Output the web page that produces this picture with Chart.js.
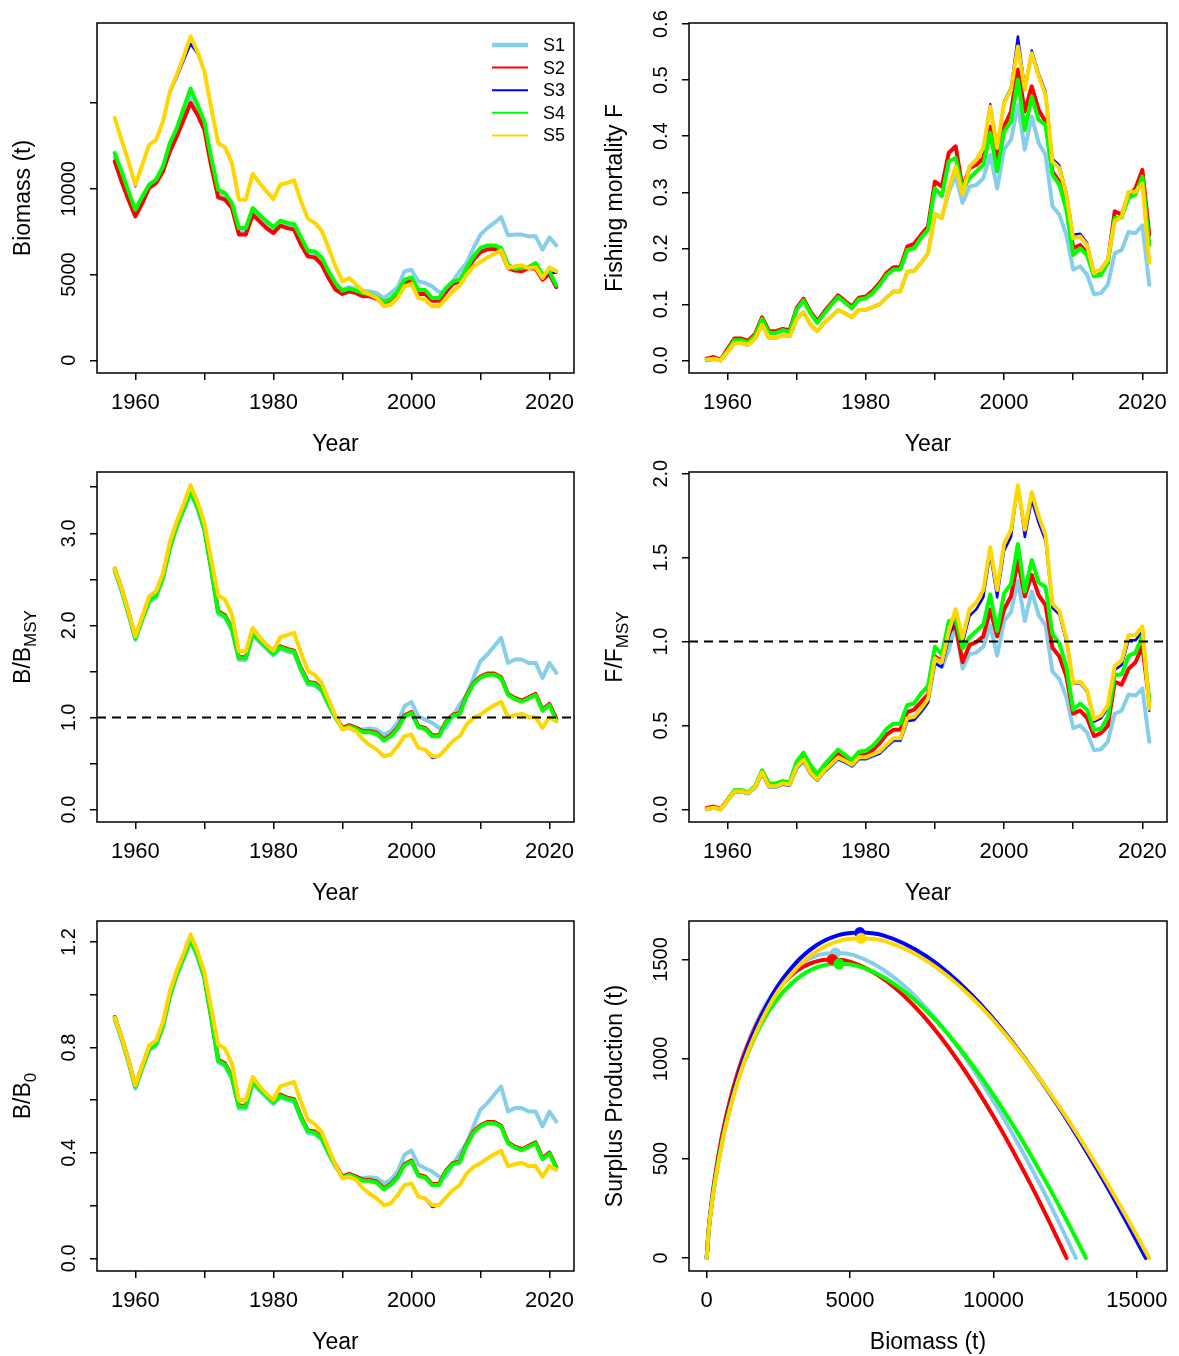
<!DOCTYPE html>
<html><head><meta charset="utf-8">
<script src="https://cdn.jsdelivr.net/npm/chart.js@4.4.1/dist/chart.umd.min.js"></script>
<style>
html,body{margin:0;padding:0;background:#fff;}
#wrap{position:relative;width:1179px;height:1356px;overflow:hidden;background:#fff;}
canvas{position:absolute;}
</style></head><body>
<div id="wrap">
<canvas id="c1" width="590" height="470" style="left:0;top:0"></canvas>
<canvas id="c2" width="589" height="470" style="left:590px;top:0"></canvas>
<canvas id="c3" width="590" height="470" style="left:0;top:449px"></canvas>
<canvas id="c4" width="589" height="470" style="left:590px;top:449px"></canvas>
<canvas id="c5" width="590" height="458" style="left:0;top:898px"></canvas>
<canvas id="c6" width="589" height="458" style="left:590px;top:898px"></canvas>
</div>
<script>
// ---------------- DATA ----------------
const years = [1957,1958,1959,1960,1961,1962,1963,1964,1965,1966,1967,1968,1969,1970,1971,1972,1973,1974,1975,1976,
1977,1978,1979,1980,1981,1982,1983,1984,1985,1986,1987,1988,1989,1990,1991,1992,1993,1994,1995,1996,
1997,1998,1999,2000,2001,2002,2003,2004,2005,2006,2007,2008,2009,2010,2011,2012,2013,2014,2015,2016,
2017,2018,2019,2020,2021];
const seriesNames = ['S1','S2','S3','S4','S5'];

// Biomass (t)
const bioS1 = [11850,10730,9610,8590,9370,10150,10440,11170,12430,13300,14370,15400,14610,13690,11550,9730,9560,9030,7520,7520,
8690,8300,7910,7600,8000,7860,7790,6960,6230,6180,5790,5000,4320,4120,4260,4180,4060,4020,3920,3630,
3920,4260,5190,5280,4600,4510,4310,3980,3980,4600,5190,5670,6550,7330,7710,8010,8350,7290,7330,7330,
7230,7230,6450,7170,6700];
const bioS2 = [11600,10430,9370,8390,9170,10050,10340,11020,12180,13060,14030,15000,14320,13450,11310,9500,9370,8880,7330,7330,
8490,8100,7710,7420,7850,7710,7620,6740,6060,6000,5580,4800,4120,3870,4020,3920,3730,3730,3590,3340,
3540,3920,4510,4640,3870,3870,3480,3480,3980,4450,4600,5190,5870,6310,6470,6510,6350,5380,5230,5190,
5380,5340,4700,5030,4260];
const bioS3 = [14130,12860,11600,10150,11410,12570,12860,13930,15600,16500,17500,18450,17900,16850,14710,12670,12420,11500,9370,9370,
10860,10340,9850,9400,10240,10340,10490,9270,8260,8010,7560,6550,5480,4600,4800,4410,4020,3830,3630,3150,
3240,3630,4310,4450,3630,3540,3150,3150,3590,4020,4370,4990,5480,5730,6000,6200,6410,5380,5480,5540,
5380,5420,4850,5090,5100];
const bioS4 = [12090,11020,9850,8780,9560,10240,10530,11310,12670,13540,14710,15840,14900,13930,11790,9950,9750,9170,7710,7710,
8880,8490,8100,7770,8140,8010,7950,7170,6390,6350,6000,5190,4510,4060,4180,4060,3920,3870,3670,3400,
3590,4020,4700,4840,4120,4100,3630,3630,4220,4600,4700,5380,6060,6550,6700,6700,6550,5580,5340,5380,
5440,5670,4990,5190,4370];
const bioS5 = [14130,12860,11600,10240,11410,12570,12860,13930,15680,16650,17720,18890,18010,16850,14710,12670,12420,11500,9370,9370,
10860,10340,9850,9400,10240,10340,10490,9270,8260,8010,7560,6550,5480,4600,4800,4410,4020,3830,3630,3150,
3240,3630,4310,4450,3630,3540,3150,3150,3590,4020,4370,4990,5480,5730,6000,6200,6410,5380,5480,5540,
5380,5420,4800,5420,5190];

// Fishing mortality F
const fS1 = [0.001,0.003,0.000,0.015,0.031,0.031,0.028,0.039,0.064,0.040,0.040,0.045,0.043,0.073,0.086,0.064,0.052,0.067,0.078,0.090,
0.084,0.077,0.090,0.090,0.095,0.100,0.112,0.123,0.123,0.158,0.160,0.174,0.191,0.261,0.254,0.300,0.330,0.281,0.310,0.313,
0.325,0.367,0.307,0.376,0.394,0.456,0.376,0.435,0.388,0.367,0.275,0.260,0.224,0.162,0.168,0.153,0.118,0.120,0.135,0.191,
0.197,0.229,0.227,0.241,0.135];
const fS2 = [0.003,0.006,0.001,0.020,0.039,0.039,0.035,0.047,0.077,0.052,0.052,0.056,0.054,0.093,0.110,0.087,0.070,0.087,0.102,0.116,
0.106,0.096,0.112,0.114,0.124,0.138,0.156,0.166,0.166,0.203,0.208,0.224,0.239,0.319,0.310,0.370,0.382,0.307,0.343,0.349,
0.361,0.417,0.361,0.417,0.444,0.519,0.444,0.489,0.447,0.426,0.337,0.319,0.278,0.200,0.206,0.191,0.153,0.159,0.174,0.266,
0.260,0.293,0.307,0.340,0.224];
const fS3 = [0.001,0.003,0.000,0.015,0.031,0.031,0.028,0.039,0.064,0.040,0.040,0.045,0.043,0.073,0.086,0.064,0.052,0.067,0.078,0.090,
0.084,0.077,0.090,0.090,0.095,0.100,0.112,0.123,0.123,0.158,0.160,0.174,0.191,0.261,0.254,0.307,0.346,0.296,0.346,0.358,
0.379,0.457,0.379,0.462,0.487,0.578,0.487,0.553,0.512,0.480,0.360,0.348,0.300,0.224,0.226,0.210,0.157,0.163,0.181,0.249,
0.258,0.302,0.302,0.318,0.176];
const fS4 = [0.000,0.003,0.000,0.017,0.036,0.036,0.032,0.044,0.074,0.049,0.049,0.054,0.051,0.090,0.107,0.084,0.067,0.084,0.099,0.113,
0.103,0.093,0.109,0.111,0.120,0.134,0.152,0.162,0.162,0.197,0.200,0.219,0.233,0.307,0.293,0.355,0.361,0.304,0.325,0.337,
0.349,0.406,0.337,0.408,0.426,0.501,0.411,0.471,0.429,0.420,0.331,0.313,0.269,0.188,0.200,0.188,0.150,0.152,0.174,0.254,
0.255,0.290,0.296,0.328,0.206];
const fS5 = [0.001,0.003,0.000,0.015,0.031,0.031,0.028,0.039,0.064,0.040,0.040,0.045,0.043,0.073,0.086,0.064,0.052,0.067,0.078,0.090,
0.084,0.077,0.090,0.090,0.095,0.100,0.112,0.123,0.123,0.158,0.160,0.174,0.191,0.261,0.254,0.307,0.346,0.296,0.346,0.358,
0.379,0.453,0.379,0.459,0.483,0.560,0.483,0.548,0.507,0.474,0.355,0.343,0.296,0.218,0.221,0.206,0.156,0.162,0.180,0.248,
0.257,0.301,0.301,0.316,0.174];

// B/BMSY
const bbS1 = [2.587,2.370,2.116,1.841,2.051,2.250,2.304,2.503,2.829,3.064,3.245,3.434,3.264,3.028,2.594,2.123,2.080,1.942,1.624,1.624,
1.895,1.816,1.743,1.671,1.743,1.714,1.696,1.508,1.356,1.345,1.284,1.128,0.990,0.887,0.905,0.869,0.869,0.879,0.869,0.814,
0.851,0.941,1.122,1.169,1.013,0.977,0.941,0.887,0.887,1.013,1.140,1.249,1.430,1.611,1.683,1.773,1.864,1.592,1.629,1.629,
1.592,1.592,1.430,1.592,1.484];
const bbS2 = [2.617,2.400,2.146,1.871,2.081,2.280,2.334,2.533,2.859,3.094,3.275,3.464,3.294,3.058,2.624,2.153,2.110,1.972,1.654,1.654,
1.925,1.846,1.773,1.701,1.773,1.744,1.726,1.538,1.386,1.375,1.314,1.158,1.013,0.887,0.916,0.887,0.851,0.851,0.832,0.760,
0.807,0.887,1.024,1.060,0.905,0.887,0.807,0.807,0.952,1.031,1.050,1.241,1.375,1.444,1.477,1.477,1.437,1.256,1.212,1.183,
1.220,1.256,1.086,1.147,0.988];
const bbS3 = [2.617,2.407,2.153,1.882,2.099,2.316,2.371,2.570,2.906,3.131,3.319,3.522,3.341,3.113,2.714,2.324,2.280,2.117,1.719,1.719,
1.972,1.871,1.792,1.726,1.871,1.893,1.918,1.701,1.509,1.459,1.375,1.194,1.013,0.869,0.887,0.851,0.760,0.699,0.651,0.579,
0.597,0.688,0.796,0.814,0.670,0.651,0.560,0.579,0.662,0.742,0.796,0.923,0.995,1.031,1.086,1.133,1.169,1.003,1.024,1.039,
1.003,1.003,0.887,1.003,0.959];
const bbS4 = [2.605,2.388,2.134,1.859,2.069,2.268,2.322,2.521,2.847,3.082,3.263,3.452,3.282,3.046,2.612,2.141,2.098,1.960,1.642,1.642,
1.913,1.834,1.761,1.689,1.761,1.732,1.714,1.526,1.374,1.363,1.302,1.146,1.001,0.875,0.904,0.875,0.839,0.839,0.820,0.748,
0.795,0.875,1.012,1.048,0.893,0.875,0.795,0.795,0.940,1.019,1.038,1.229,1.363,1.432,1.465,1.465,1.425,1.244,1.200,1.171,
1.208,1.244,1.074,1.135,0.960];
const bbS5 = [2.617,2.407,2.153,1.882,2.099,2.316,2.371,2.570,2.906,3.131,3.319,3.522,3.341,3.113,2.714,2.324,2.280,2.117,1.719,1.719,
1.972,1.871,1.792,1.726,1.871,1.893,1.918,1.701,1.509,1.459,1.375,1.194,1.013,0.869,0.887,0.851,0.760,0.699,0.651,0.579,
0.597,0.688,0.796,0.814,0.670,0.651,0.579,0.579,0.662,0.742,0.796,0.923,0.995,1.031,1.086,1.133,1.169,1.003,1.024,1.039,
1.003,1.003,0.887,1.003,0.959];

// F/FMSY
const ffS1 = [0.003,0.010,0.000,0.050,0.104,0.104,0.094,0.130,0.214,0.134,0.134,0.150,0.144,0.244,0.288,0.214,0.174,0.224,0.261,0.301,
0.281,0.258,0.301,0.301,0.318,0.335,0.374,0.411,0.411,0.529,0.535,0.582,0.639,0.873,0.850,0.950,1.100,0.839,0.925,0.934,
0.970,1.096,0.916,1.122,1.176,1.361,1.122,1.299,1.158,1.096,0.821,0.776,0.669,0.484,0.501,0.457,0.352,0.358,0.403,0.570,
0.588,0.684,0.678,0.719,0.403];
const ffS2 = [0.009,0.017,0.003,0.057,0.111,0.111,0.100,0.134,0.220,0.149,0.149,0.160,0.154,0.266,0.314,0.249,0.200,0.249,0.291,0.331,
0.303,0.274,0.320,0.326,0.354,0.394,0.446,0.474,0.474,0.580,0.594,0.640,0.683,0.911,0.886,1.057,1.091,0.877,0.980,0.997,
1.031,1.191,1.031,1.191,1.269,1.483,1.269,1.397,1.277,1.217,0.963,0.911,0.794,0.571,0.589,0.546,0.437,0.454,0.497,0.760,
0.743,0.837,0.877,0.971,0.640];
const ffS3 = [0.003,0.010,0.000,0.050,0.103,0.103,0.093,0.130,0.213,0.133,0.133,0.150,0.143,0.243,0.287,0.213,0.173,0.223,0.260,0.300,
0.280,0.257,0.300,0.300,0.317,0.333,0.373,0.410,0.410,0.527,0.533,0.580,0.637,0.870,0.847,1.023,1.153,0.987,1.153,1.193,
1.263,1.523,1.263,1.540,1.623,1.927,1.623,1.843,1.707,1.600,1.200,1.160,1.000,0.747,0.753,0.700,0.523,0.543,0.603,0.830,
0.860,1.007,1.007,1.060,0.587];
const ffS4 = [0.000,0.009,0.000,0.054,0.114,0.114,0.101,0.139,0.233,0.155,0.155,0.170,0.161,0.284,0.338,0.265,0.211,0.265,0.312,0.357,
0.325,0.293,0.344,0.350,0.379,0.423,0.480,0.511,0.511,0.622,0.631,0.691,0.735,0.969,0.924,1.120,1.139,0.959,1.025,1.063,
1.101,1.281,1.063,1.287,1.344,1.581,1.297,1.486,1.353,1.325,1.044,0.988,0.849,0.593,0.631,0.593,0.473,0.480,0.549,0.801,
0.805,0.915,0.934,1.035,0.650];
const ffS5 = [0.003,0.010,0.000,0.052,0.107,0.107,0.097,0.134,0.221,0.138,0.138,0.155,0.148,0.252,0.297,0.221,0.179,0.231,0.269,0.310,
0.290,0.266,0.310,0.310,0.328,0.345,0.386,0.424,0.424,0.545,0.552,0.600,0.659,0.900,0.876,1.059,1.193,1.021,1.193,1.234,
1.307,1.562,1.307,1.583,1.666,1.931,1.666,1.890,1.748,1.634,1.224,1.183,1.021,0.752,0.762,0.710,0.538,0.559,0.621,0.855,
0.886,1.038,1.038,1.090,0.600];

// B/B0
const b0S1 = [0.905,0.830,0.741,0.644,0.718,0.788,0.806,0.876,0.990,1.072,1.136,1.202,1.142,1.060,0.908,0.743,0.728,0.680,0.568,0.568,
0.663,0.636,0.610,0.585,0.610,0.600,0.594,0.528,0.475,0.471,0.449,0.395,0.347,0.310,0.317,0.304,0.304,0.308,0.304,0.285,
0.298,0.329,0.393,0.409,0.355,0.342,0.329,0.310,0.310,0.355,0.399,0.437,0.501,0.564,0.589,0.621,0.652,0.557,0.570,0.570,
0.557,0.557,0.501,0.557,0.519];
const b0S2 = [0.916,0.840,0.751,0.655,0.728,0.798,0.817,0.887,1.001,1.083,1.146,1.212,1.153,1.070,0.918,0.754,0.739,0.690,0.579,0.579,
0.674,0.646,0.621,0.595,0.621,0.610,0.604,0.538,0.485,0.481,0.460,0.405,0.355,0.310,0.321,0.310,0.298,0.298,0.291,0.266,
0.282,0.310,0.358,0.371,0.317,0.310,0.282,0.282,0.333,0.361,0.368,0.434,0.481,0.505,0.517,0.517,0.503,0.440,0.424,0.414,
0.427,0.440,0.380,0.401,0.346];
const b0S3 = [0.913,0.840,0.751,0.657,0.733,0.808,0.827,0.897,1.014,1.093,1.158,1.229,1.166,1.086,0.947,0.811,0.796,0.739,0.600,0.600,
0.688,0.653,0.625,0.602,0.653,0.661,0.669,0.594,0.527,0.509,0.480,0.417,0.354,0.303,0.310,0.297,0.265,0.244,0.227,0.202,
0.208,0.240,0.278,0.284,0.234,0.227,0.195,0.202,0.231,0.259,0.278,0.322,0.347,0.360,0.379,0.395,0.408,0.350,0.357,0.363,
0.350,0.350,0.310,0.350,0.335];
const b0S4 = [0.912,0.836,0.747,0.651,0.724,0.794,0.813,0.883,0.997,1.079,1.142,1.208,1.149,1.066,0.914,0.750,0.735,0.686,0.575,0.575,
0.670,0.642,0.617,0.591,0.617,0.606,0.600,0.534,0.481,0.477,0.456,0.401,0.351,0.306,0.317,0.306,0.294,0.294,0.287,0.262,
0.278,0.306,0.354,0.367,0.313,0.306,0.278,0.278,0.329,0.357,0.364,0.430,0.477,0.501,0.513,0.513,0.499,0.436,0.420,0.410,
0.423,0.436,0.376,0.397,0.342];
const b0S5 = [0.913,0.840,0.751,0.657,0.733,0.808,0.827,0.897,1.014,1.093,1.158,1.229,1.166,1.086,0.947,0.811,0.796,0.739,0.600,0.600,
0.688,0.653,0.625,0.602,0.653,0.661,0.669,0.594,0.527,0.509,0.480,0.417,0.354,0.303,0.310,0.297,0.265,0.244,0.227,0.202,
0.208,0.240,0.278,0.284,0.234,0.227,0.202,0.202,0.231,0.259,0.278,0.322,0.347,0.360,0.379,0.395,0.408,0.350,0.357,0.363,
0.350,0.350,0.310,0.350,0.335];

// Surplus production curves: biomass (t) and production (t)
const spB1 = [0,64,129,258,515,773,1030,1288,1932,2575,3219,3863,4490,5151,6439,7726,9014,10302,11589,12233,12877];
const spP1 = [0,138,231,378,602,772,910,1025,1241,1382,1472,1520,1532,1520,1420,1246,1007,715,378,193,0];
const spB2 = [0,63,126,251,502,753,1004,1255,1883,2510,3138,3766,4377,5021,6276,7531,8786,10042,11297,11924,12552];
const spP2 = [0,135,227,371,590,756,891,1004,1215,1353,1442,1488,1500,1488,1391,1220,986,701,370,189,0];
const spB3 = [0,77,153,306,613,919,1225,1531,2297,3063,3828,4594,5340,6125,7657,9188,10719,12250,13782,14547,15313];
const spP3 = [0,147,247,404,643,824,971,1094,1324,1475,1571,1622,1635,1622,1516,1329,1074,764,403,206,0];
const spB4 = [0,66,132,265,529,794,1058,1323,1984,2645,3306,3968,4612,5290,6613,7935,9258,10580,11903,12564,13225];
const spP4 = [0,133,223,365,581,745,878,989,1197,1333,1420,1466,1478,1466,1370,1202,971,690,364,186,0];
const spB5 = [0,77,154,309,617,926,1234,1543,2314,3086,3857,4629,5380,6172,7715,9257,10800,12343,13886,14658,15429];
const spP5 = [0,145,243,397,631,809,954,1074,1301,1449,1543,1593,1606,1593,1489,1306,1055,750,396,202,0];
const msyB = [4490,4377,5340,4612,5380];
const msyP = [1532,1500,1635,1478,1606];

// reference level for ratio panels
const refLevel = 1.0;

// tick values and labels
const yearTicks = [1960,1970,1980,1990,2000,2010,2020];
const yearTickLabels = ['1960','','1980','','2000','','2020'];
const bioTicks = [0,5000,10000,15000];
const bioTickLabels = ['0','5000','10000',''];
const fTicks = [0,0.1,0.2,0.3,0.4,0.5,0.6];
const fTickLabels = ['0.0','0.1','0.2','0.3','0.4','0.5','0.6'];
const bbTicks = [0,0.5,1,1.5,2,2.5,3,3.5];
const bbTickLabels = ['0.0','','1.0','','2.0','','3.0',''];
const ffTicks = [0,0.5,1,1.5,2];
const ffTickLabels = ['0.0','0.5','1.0','1.5','2.0'];
const b0Ticks = [0,0.2,0.4,0.6,0.8,1.0,1.2];
const b0TickLabels = ['0.0','','0.4','','0.8','','1.2'];
const spXTicks = [0,5000,10000,15000];
const spXTickLabels = ['0','5000','10000','15000'];
const spYTicks = [0,500,1000,1500];
const spYTickLabels = ['0','500','1000','1500'];

// ---------------- STYLE ----------------
const FONT = "'Liberation Sans', Arial, sans-serif";
const seriesColors = ['#87CEEB','#FF0000','#0000FF','#00FF00','#FFD700'];
const tsWidths = [4,4,2.5,4,4];
const spWidths = [4,4,4,4,4];
const legendWidths = [4.5,2,2,2,2];
const XTICK_SIZE = 22, YTICK_SIZE = 20, TITLE_SIZE = 23, LEGEND_SIZE = 18;
const YEAR_MIN = 1954.44, YEAR_MAX = 2023.56;

function drawYTitle(ctx, segs, cx, cy, size) {
  ctx.save();
  ctx.translate(cx, cy);
  ctx.rotate(-Math.PI / 2);
  ctx.textBaseline = 'middle'; ctx.textAlign = 'left'; ctx.fillStyle = '#000';
  let total = 0;
  const ws = segs.map(s => { ctx.font = (s[1] ? Math.round(size * 0.75) : size) + 'px ' + FONT; const w = ctx.measureText(s[0]).width; total += w; return w; });
  let x = -total / 2;
  segs.forEach((s, i) => {
    ctx.font = (s[1] ? Math.round(size * 0.75) : size) + 'px ' + FONT;
    ctx.fillText(s[0], x, s[1] ? size * 0.32 : 0);
    x += ws[i];
  });
  ctx.restore();
}

const decor = {
  id: 'decor',
  afterDraw(chart, args, o) {
    const ctx = chart.ctx, ca = chart.chartArea;
    ctx.save();
    ctx.strokeStyle = '#000'; ctx.lineWidth = 1.5;
    ctx.strokeRect(ca.left, ca.top, ca.right - ca.left, ca.bottom - ca.top);
    ctx.fillStyle = '#000';
    ctx.font = TITLE_SIZE + 'px ' + FONT;
    ctx.textAlign = 'center'; ctx.textBaseline = 'middle';
    ctx.fillText(o.xTitle, (ca.left + ca.right) / 2, ca.bottom + 72);
    drawYTitle(ctx, o.yTitle, ca.left - 73, (ca.top + ca.bottom) / 2, TITLE_SIZE);
    if (o.legend) {
      seriesNames.forEach((n, i) => {
        const y = ca.top + 22 + i * 22.6;
        ctx.strokeStyle = seriesColors[i]; ctx.lineWidth = legendWidths[i]; ctx.lineCap = 'butt';
        ctx.beginPath(); ctx.moveTo(ca.right - 82, y); ctx.lineTo(ca.right - 46, y); ctx.stroke();
        ctx.fillStyle = '#000'; ctx.font = LEGEND_SIZE + 'px ' + FONT; ctx.textAlign = 'left';
        ctx.fillText(n, ca.right - 31, y + 1);
      });
    }
    ctx.restore();
  }
};

function yPadFor(labels) {
  const c = document.createElement('canvas').getContext('2d');
  c.font = YTICK_SIZE + 'px ' + FONT;
  let w = 0; labels.forEach(l => { w = Math.max(w, c.measureText(l).width); });
  return 28 - 7 - w / 2;
}

function seriesDatasets(xsList, ysList, widths) {
  return ysList.map((ys, i) => ({
    label: seriesNames[i],
    data: ys.map((v, j) => ({ x: xsList[i][j], y: v })),
    borderColor: seriesColors[i], backgroundColor: seriesColors[i],
    borderWidth: widths[i], pointRadius: 0, tension: 0, fill: false,
    borderJoinStyle: 'round', borderCapStyle: 'round',
    order: 20 - i
  }));
}

function makeChart(cfg) {
  const yPad = yPadFor(cfg.yLabels);
  return new Chart(document.getElementById(cfg.id), {
    type: 'line',
    data: { datasets: cfg.datasets },
    options: {
      responsive: false, animation: false, devicePixelRatio: 1, events: [],
      layout: { padding: { top: 23, right: cfg.padRight, left: 0, bottom: 0 } },
      plugins: { legend: { display: false }, tooltip: { enabled: false },
        decor: { xTitle: cfg.xTitle, yTitle: cfg.yTitle, legend: !!cfg.legend } },
      scales: {
        x: {
          type: 'linear', position: 'bottom', min: cfg.xMin, max: cfg.xMax,
          afterBuildTicks: s => { s.ticks = cfg.xTicks.map(v => ({ value: v })); },
          afterFit: s => { s.height = cfg.xH; },
          grid: { drawOnChartArea: false, drawTicks: true, tickLength: 7, color: '#000', lineWidth: 1.5 },
          border: { display: false },
          ticks: { autoSkip: false, maxRotation: 0, minRotation: 0, padding: 10, color: '#000',
            font: { family: FONT, size: XTICK_SIZE }, callback: (v, i) => cfg.xLabels[i] }
        },
        y: {
          type: 'linear', position: 'left', min: cfg.yMin, max: cfg.yMax,
          afterBuildTicks: s => { s.ticks = cfg.yTicks.map(v => ({ value: v })); },
          afterFit: s => { s.width = cfg.yW; },
          grid: { drawOnChartArea: false, drawTicks: true, tickLength: 7, color: '#000', lineWidth: 1.5 },
          border: { display: false },
          ticks: { autoSkip: false, minRotation: 90, maxRotation: 90, crossAlign: 'center', padding: yPad,
            color: '#000', font: { family: FONT, size: YTICK_SIZE }, callback: (v, i) => cfg.yLabels[i] }
        }
      }
    },
    plugins: [decor]
  });
}

const yrs5 = [years, years, years, years, years];
function refLine() {
  return { label: 'ref', data: [{ x: YEAR_MIN, y: refLevel }, { x: YEAR_MAX, y: refLevel }],
    borderColor: '#000', borderWidth: 2, borderDash: [9, 6], pointRadius: 0, fill: false, order: 0 };
}

const LEFT = { yW: 97, padRight: 16 }, RIGHT = { yW: 99, padRight: 12 };

makeChart(Object.assign({ id: 'c1', xH: 97, xMin: YEAR_MIN, xMax: YEAR_MAX, xTicks: yearTicks, xLabels: yearTickLabels,
  yMin: -740, yMax: 19670, yTicks: bioTicks, yLabels: bioTickLabels, xTitle: 'Year', yTitle: [['Biomass (t)', 0]], legend: true,
  datasets: seriesDatasets(yrs5, [bioS1, bioS2, bioS3, bioS4, bioS5], tsWidths) }, LEFT));

makeChart(Object.assign({ id: 'c2', xH: 97, xMin: YEAR_MIN, xMax: YEAR_MAX, xTicks: yearTicks, xLabels: yearTickLabels,
  yMin: -0.0225, yMax: 0.602, yTicks: fTicks, yLabels: fTickLabels, xTitle: 'Year', yTitle: [['Fishing mortality F', 0]],
  datasets: seriesDatasets(yrs5, [fS1, fS2, fS3, fS4, fS5], tsWidths) }, RIGHT));

makeChart(Object.assign({ id: 'c3', xH: 97, xMin: YEAR_MIN, xMax: YEAR_MAX, xTicks: yearTicks, xLabels: yearTickLabels,
  yMin: -0.135, yMax: 3.665, yTicks: bbTicks, yLabels: bbTickLabels, xTitle: 'Year', yTitle: [['B/B', 0], ['MSY', 1]],
  datasets: seriesDatasets(yrs5, [bbS1, bbS2, bbS3, bbS4, bbS5], tsWidths).concat([refLine()]) }, LEFT));

makeChart(Object.assign({ id: 'c4', xH: 97, xMin: YEAR_MIN, xMax: YEAR_MAX, xTicks: yearTicks, xLabels: yearTickLabels,
  yMin: -0.075, yMax: 2.01, yTicks: ffTicks, yLabels: ffTickLabels, xTitle: 'Year', yTitle: [['F/F', 0], ['MSY', 1]],
  datasets: seriesDatasets(yrs5, [ffS1, ffS2, ffS3, ffS4, ffS5], tsWidths).concat([refLine()]) }, RIGHT));

makeChart(Object.assign({ id: 'c5', xH: 85, xMin: YEAR_MIN, xMax: YEAR_MAX, xTicks: yearTicks, xLabels: yearTickLabels,
  yMin: -0.048, yMax: 1.28, yTicks: b0Ticks, yLabels: b0TickLabels, xTitle: 'Year', yTitle: [['B/B', 0], ['0', 1]],
  datasets: seriesDatasets(yrs5, [b0S1, b0S2, b0S3, b0S4, b0S5], tsWidths) }, LEFT));

const spSets = seriesDatasets([spB1, spB2, spB3, spB4, spB5], [spP1, spP2, spP3, spP4, spP5], spWidths)
  .map(d => Object.assign(d, { cubicInterpolationMode: 'monotone' }));
const msyPoints = msyB.map((b, i) => ({
  label: seriesNames[i] + ' MSY', data: [{ x: b, y: msyP[i] }], showLine: false,
  pointRadius: 5.5, pointBorderWidth: 0, pointBackgroundColor: seriesColors[i], backgroundColor: seriesColors[i],
  borderColor: seriesColors[i], order: 5 - i
}));
makeChart(Object.assign({ id: 'c6', xH: 85, xMin: -617, xMax: 16050, xTicks: spXTicks, xLabels: spXTickLabels,
  yMin: -65, yMax: 1693, yTicks: spYTicks, yLabels: spYTickLabels, xTitle: 'Biomass (t)', yTitle: [['Surplus Production (t)', 0]],
  datasets: spSets.concat(msyPoints) }, RIGHT));
</script>
</body></html>
